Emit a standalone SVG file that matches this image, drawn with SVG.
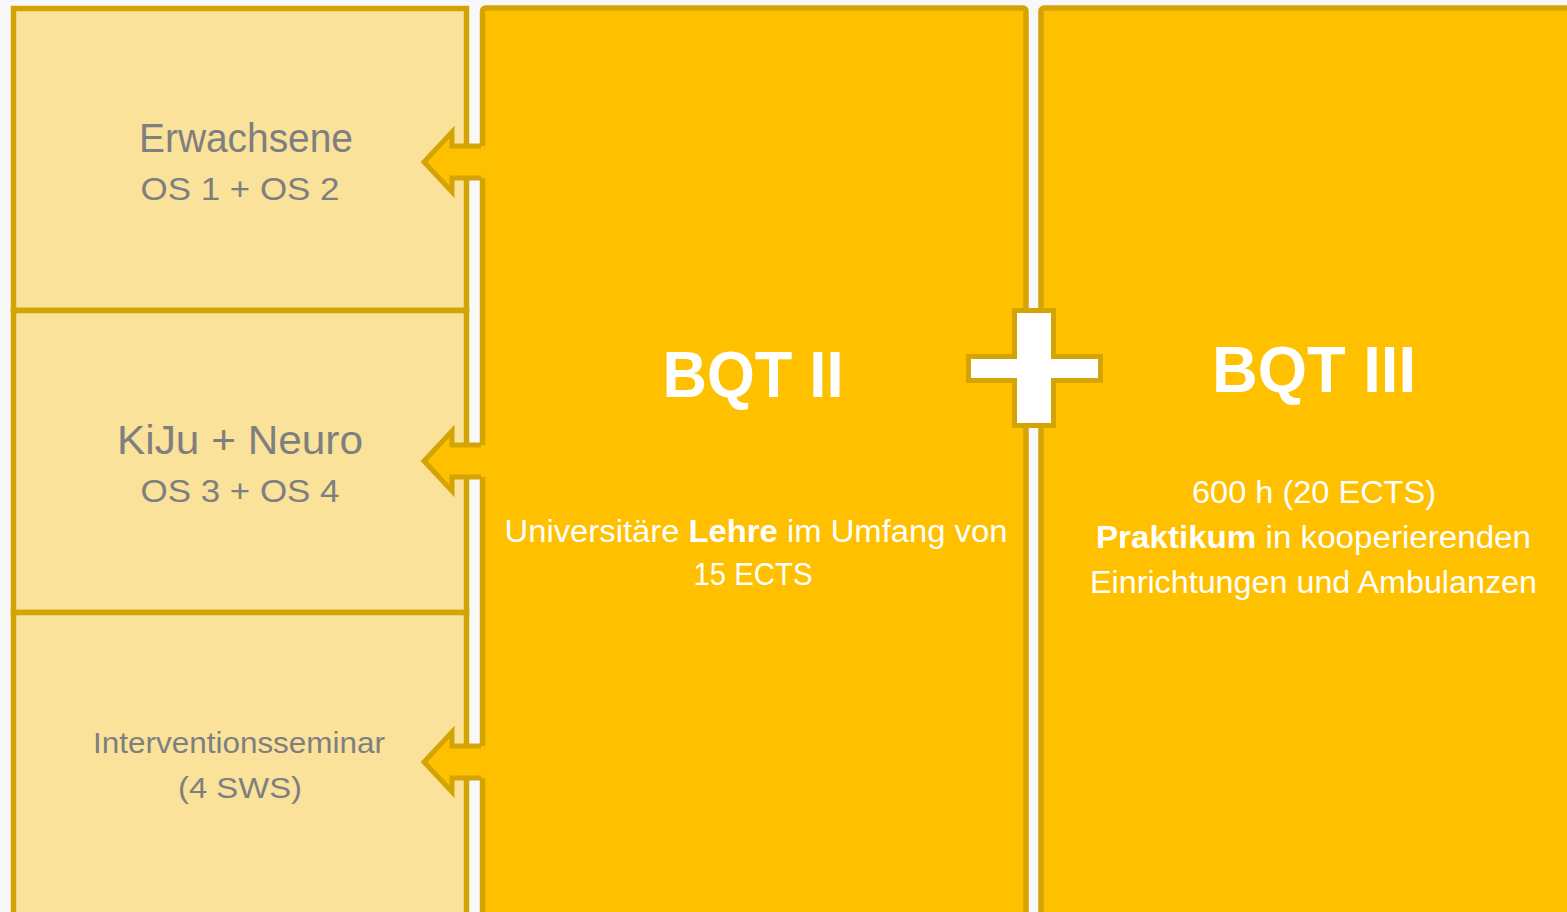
<svg xmlns="http://www.w3.org/2000/svg" width="1567" height="912" viewBox="0 0 1567 912">
<defs>
<style>
.cell{fill:#fae29b;stroke:#d4a304;stroke-width:5.5}
.panel{fill:#ffc000;stroke:#d4a304;stroke-width:5.5}
.arrowfill{fill:#ffc000}
.arrowline{fill:none;stroke:#d4a304;stroke-width:5;stroke-linejoin:miter}
.g{font-family:"Liberation Sans",Arial,sans-serif;fill:#7f7f7f;text-anchor:middle}
.w{font-family:"Liberation Sans",Arial,sans-serif;fill:#ffffff;text-anchor:middle}
</style>
</defs>
<rect width="1567" height="912" fill="#f8f8f8"/>

<g id="cell-erwachsene">
<rect class="cell" x="13.5" y="8.5" width="453" height="302"/>
<text class="g" x="246" y="152" font-size="40" textLength="214" lengthAdjust="spacingAndGlyphs">Erwachsene</text>
<text class="g" x="240" y="200" font-size="31" textLength="199" lengthAdjust="spacingAndGlyphs">OS 1 + OS 2</text>
</g>
<g id="cell-kiju">
<rect class="cell" x="13.5" y="310.5" width="453" height="302"/>
<text class="g" x="240" y="454" font-size="40" textLength="246" lengthAdjust="spacingAndGlyphs">KiJu + Neuro</text>
<text class="g" x="240" y="502" font-size="31" textLength="199" lengthAdjust="spacingAndGlyphs">OS 3 + OS 4</text>
</g>
<g id="cell-intervention">
<rect class="cell" x="13.5" y="612.5" width="453" height="310"/>
<text class="g" x="239" y="753" font-size="29" textLength="292" lengthAdjust="spacingAndGlyphs">Interventionsseminar</text>
<text class="g" x="240" y="798" font-size="29" textLength="124" lengthAdjust="spacingAndGlyphs">(4 SWS)</text>
</g>

<g id="bqt2">
<rect class="panel" x="482.5" y="8" width="543.5" height="920" rx="3"/>
<text class="w" x="753" y="397" font-size="64" font-weight="bold" textLength="181" lengthAdjust="spacingAndGlyphs">BQT II</text>
<text class="w" x="756" y="542" font-size="31" textLength="503" lengthAdjust="spacingAndGlyphs">Universitäre <tspan font-weight="bold">Lehre</tspan> im Umfang von</text>
<text class="w" x="753" y="585" font-size="31" textLength="119" lengthAdjust="spacingAndGlyphs">15 ECTS</text>
</g>

<g id="bqt3">
<rect class="panel" x="1041" y="8" width="560" height="920" rx="3"/>
<text class="w" x="1314" y="392" font-size="64" font-weight="bold" textLength="204" lengthAdjust="spacingAndGlyphs">BQT III</text>
<text class="w" x="1314" y="503" font-size="31" textLength="244" lengthAdjust="spacingAndGlyphs">600 h (20 ECTS)</text>
<text class="w" x="1313.5" y="548" font-size="31" textLength="435" lengthAdjust="spacingAndGlyphs"><tspan font-weight="bold">Praktikum</tspan> in kooperierenden</text>
<text class="w" x="1313.5" y="593" font-size="31" textLength="447" lengthAdjust="spacingAndGlyphs">Einrichtungen und Ambulanzen</text>
</g>

<g id="connectors">
<g id="arrow1">
<polygon class="arrowfill" points="424,162 452,132 452,146 487,146 487,178 452,178 452,192"/>
<polyline class="arrowline" points="481,146 452,146 452,132 424,162 452,192 452,178 481,178"/>
</g>
<g id="arrow2">
<polygon class="arrowfill" points="424,461 452,431 452,445 487,445 487,477 452,477 452,491"/>
<polyline class="arrowline" points="481,445 452,445 452,431 424,461 452,491 452,477 481,477"/>
</g>
<g id="arrow3">
<polygon class="arrowfill" points="424,762 452,732 452,746 487,746 487,778 452,778 452,792"/>
<polyline class="arrowline" points="481,746 452,746 452,732 424,762 452,792 452,778 481,778"/>
</g>
<g id="plus">
<polygon points="1014.5,310.5 1053.5,310.5 1053.5,356.5 1100.5,356.5 1100.5,380.5 1053.5,380.5 1053.5,425.5 1014.5,425.5 1014.5,380.5 968.5,380.5 968.5,356.5 1014.5,356.5" fill="#ffffff" stroke="#d4a304" stroke-width="5"/>
</g>
</g>
</svg>
